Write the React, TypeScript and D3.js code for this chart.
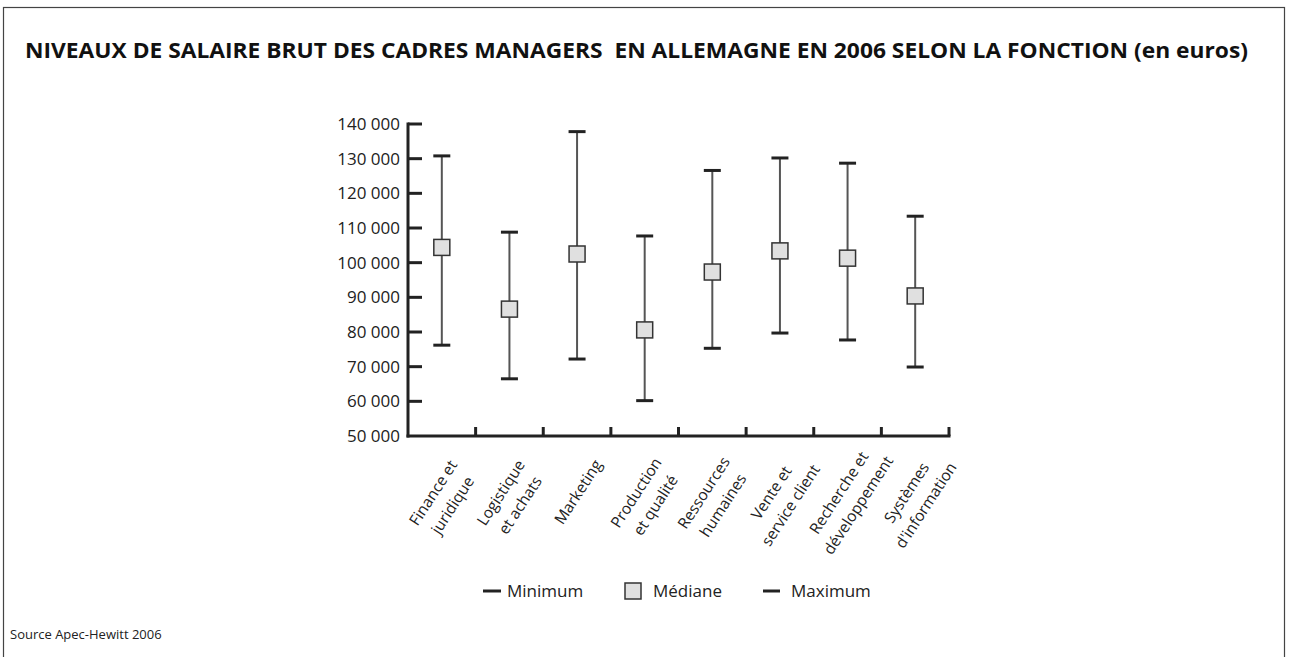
import React from "react";
import * as d3 from "d3";

const categories: string[][] = [
  ["Finance et", "juridique"],
  ["Logistique", "et achats"],
  ["Marketing"],
  ["Production", "et qualité"],
  ["Ressources", "humaines"],
  ["Vente et", "service client"],
  ["Recherche et", "développement"],
  ["Systèmes", "d'information"],
];
const minimum = [76200, 66500, 72200, 60200, 75300, 79700, 77700, 69900];
const mediane = [104400, 86600, 102500, 80600, 97300, 103400, 101300, 90400];
const maximum = [130800, 108800, 137800, 107700, 126600, 130200, 128700, 113400];
const yTicks = [50000, 60000, 70000, 80000, 90000, 100000, 110000, 120000, 130000, 140000];

const title = "NIVEAUX DE SALAIRE BRUT DES CADRES MANAGERS  EN ALLEMAGNE EN 2006 SELON LA FONCTION (en euros)";
const source = "Source Apec-Hewitt 2006";

const W = 1289;
const H = 657;
const x0 = 408;
const x1 = 949;
const yTop = 124;
const yBot = 436;
const font = "'Open Sans', sans-serif";

export default function App() {
  const x = d3.scaleBand<number>().domain(d3.range(categories.length)).range([x0, x1]);
  const y = d3.scaleLinear().domain([50000, 140000]).range([yBot, yTop]);
  const fmt = (v: number) => d3.format(",")(v).replace(/,/g, " ");
  const bw = x.bandwidth();
  const capW = 17;
  const sq = 16;
  const lh = 23;

  return (
    <svg width={W} height={H} style={{ position: "absolute", left: 0, top: 0, background: "#fff" }}>
      <rect x={3.5} y={7.5} width={1281} height={H + 10} fill="none" stroke="#444" strokeWidth={1.2} />
      <text x={25} y={58} fontFamily={font} fontWeight={700} fontSize={22} fill="#111"
        textLength={1223} lengthAdjust="spacingAndGlyphs" style={{ whiteSpace: "pre" }}>
        {title}
      </text>

      {/* Y axis */}
      <line x1={x0} x2={x0} y1={yTop - 1.5} y2={yBot + 1.5} stroke="#222" strokeWidth={3} />
      {yTicks.map((t) => (
        <g key={t}>
          {t !== 50000 && (
            <line x1={x0} x2={x0 + 14} y1={y(t)} y2={y(t)} stroke="#222" strokeWidth={3} />
          )}
          <text x={400} y={y(t)} dy="0.35em" textAnchor="end" fontFamily={font} fontSize={17} fill="#222">
            {fmt(t)}
          </text>
        </g>
      ))}

      {/* X axis */}
      <line x1={x0 - 1.5} x2={x1 + 1.5} y1={yBot} y2={yBot} stroke="#222" strokeWidth={3} />
      {d3.range(1, categories.length + 1).map((i) => {
        const xx = x0 + i * bw;
        return <line key={i} x1={xx} x2={xx} y1={yBot} y2={yBot - 9} stroke="#222" strokeWidth={3} />;
      })}

      {/* Error bars */}
      {categories.map((_, i) => {
        const cx = (x(i) as number) + bw / 2;
        return (
          <g key={i}>
            <line x1={cx} x2={cx} y1={y(maximum[i])} y2={y(minimum[i])} stroke="#555" strokeWidth={2} />
            <line x1={cx - capW / 2} x2={cx + capW / 2} y1={y(maximum[i])} y2={y(maximum[i])} stroke="#222" strokeWidth={3} />
            <line x1={cx - capW / 2} x2={cx + capW / 2} y1={y(minimum[i])} y2={y(minimum[i])} stroke="#222" strokeWidth={3} />
            <rect x={cx - sq / 2} y={y(mediane[i]) - sq / 2} width={sq} height={sq} fill="#e0e0e0" stroke="#333" strokeWidth={1.5} />
          </g>
        );
      })}

      {/* Category labels */}
      {categories.map((lines, i) => {
        const cx = (x(i) as number) + bw / 2;
        const n = lines.length;
        const gy = n === 1 ? 492 : 499;
        return (
          <g key={i} transform={`translate(${cx + 1},${gy}) rotate(-57)`}>
            {lines.map((l, j) => (
              <text key={j} x={0} y={(j - (n - 1) / 2) * lh} dy="0.35em" textAnchor="middle"
                fontFamily={font} fontSize={15.5} fill="#222">
                {l}
              </text>
            ))}
          </g>
        );
      })}

      {/* Legend */}
      <g fontFamily={font} fontSize={17} fill="#222">
        <line x1={483} x2={501} y1={591} y2={591} stroke="#222" strokeWidth={3} />
        <text x={507} y={591} dy="0.35em">Minimum</text>
        <rect x={625} y={583} width={16} height={16} fill="#e0e0e0" stroke="#333" strokeWidth={1.5} />
        <text x={653} y={591} dy="0.35em">Médiane</text>
        <line x1={763} x2={780} y1={591} y2={591} stroke="#222" strokeWidth={3} />
        <text x={791} y={591} dy="0.35em">Maximum</text>
      </g>

      <text x={10} y={634} dy="0.35em" fontFamily={font} fontSize={13} fill="#222">{source}</text>
    </svg>
  );
}
